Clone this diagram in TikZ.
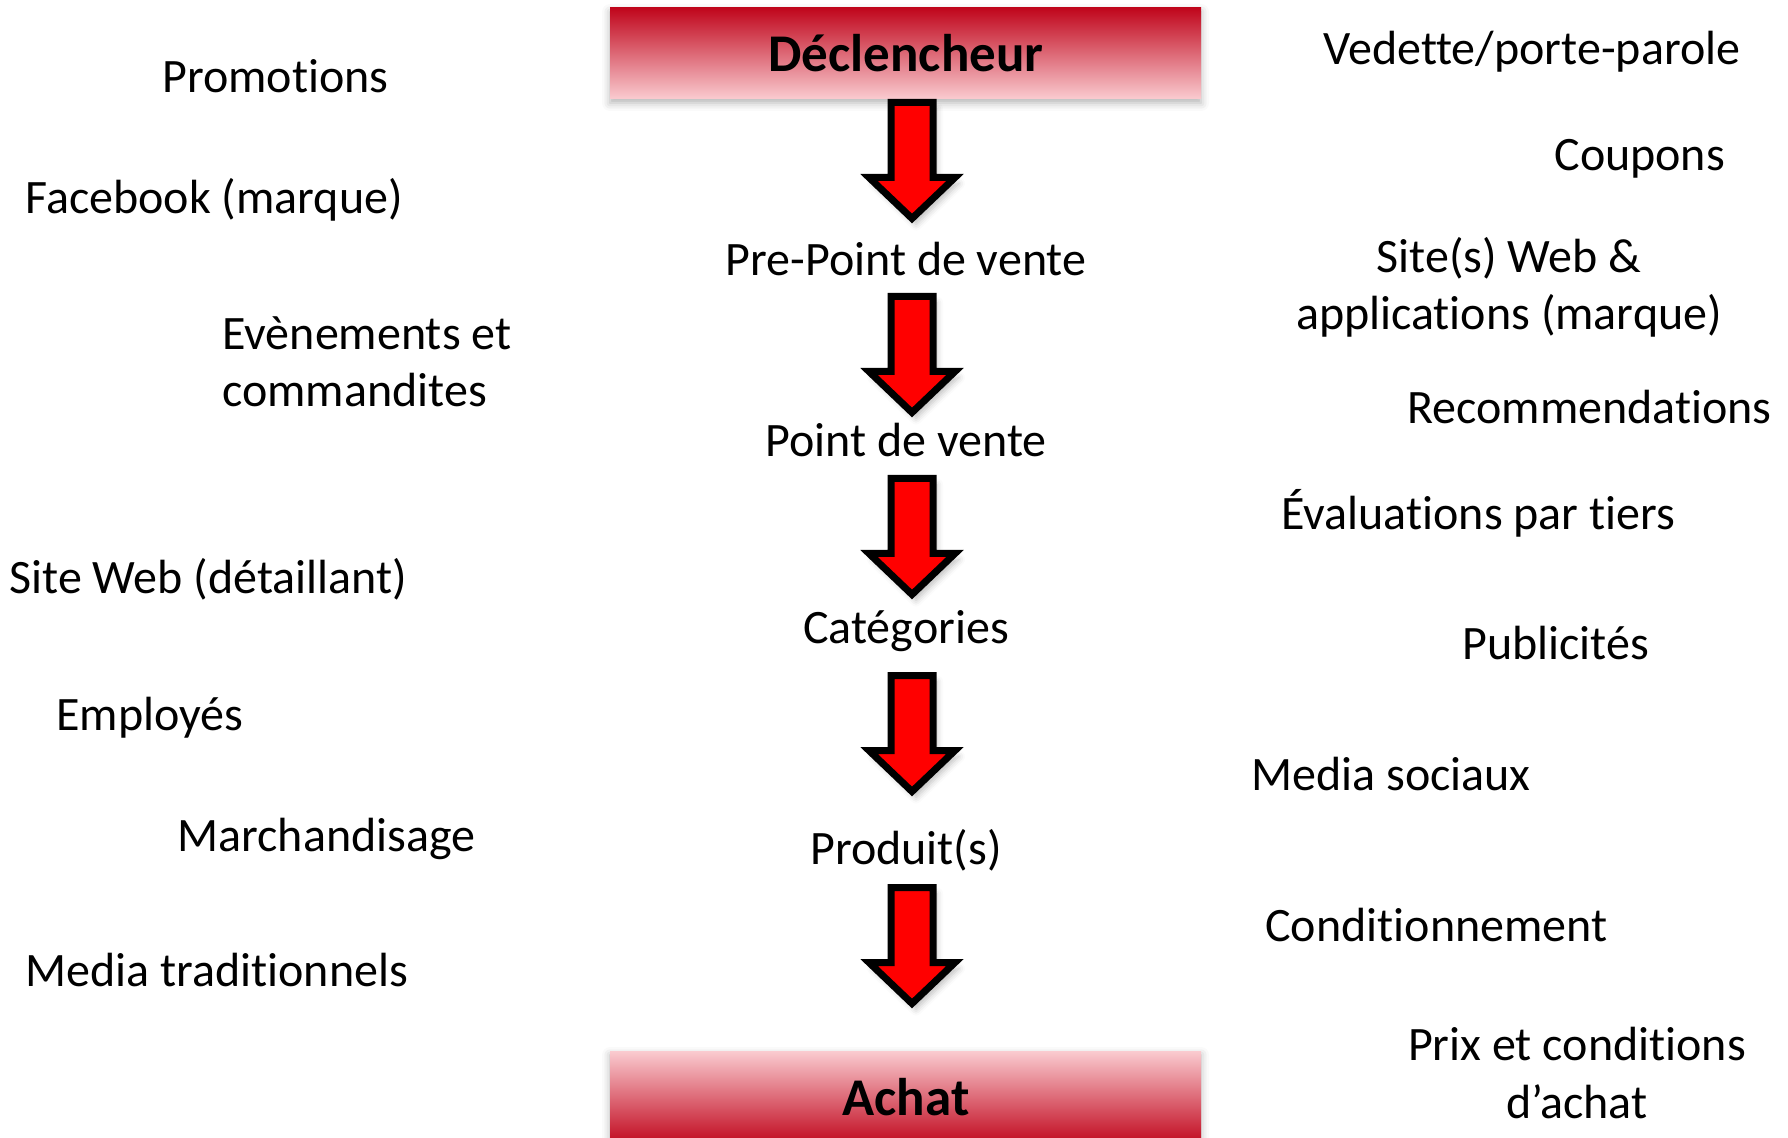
\documentclass[tikz,border=0pt]{standalone}
\usepackage{fontspec}
\setmainfont[RawFeature={-liga;-clig;-dlig}]{Carlito}
\usetikzlibrary{shadows.blur}
\definecolor{darkred}{HTML}{C0061C}
\definecolor{pinklight}{HTML}{FACBD0}
\definecolor{arrowred}{HTML}{FF0000}
\newcommand\tI{t\kern0pt i}
\begin{document}
\begin{tikzpicture}[x=0.5pt,y=-0.5pt,
  lbl/.style={inner sep=0pt,font=\fontsize{24}{28.6}\selectfont},
  ttl/.style={inner sep=0pt,font=\fontsize{26.5}{30}\selectfont\bfseries},
  boxshadow/.style={blur shadow={shadow xshift=0pt,shadow yshift=-2pt,shadow blur radius=4pt,shadow opacity=30}},
  arrowline/.style={draw=black,fill=arrowred,line width=3.5pt,line join=miter,
    blur shadow={shadow xshift=2pt,shadow yshift=-3pt,shadow blur radius=3pt,shadow opacity=25}},
  downarrow/.pic={\path[arrowline] (-21,3.5) -- (21,3.5) -- (21,78.5) -- (43,78.5) -- (0,119.5) -- (-43,78.5) -- (-21,78.5) -- cycle;}
]
\useasboundingbox (0,0) rectangle (1788,1138);
% title boxes
\path[boxshadow,top color=darkred,bottom color=pinklight] (610,8) rectangle (1201,99);
\path[boxshadow,top color=pinklight,bottom color=darkred] (610,1051) rectangle (1201,1145);
\node[ttl,anchor=base] (decl) at (906,72) {Déclencheur};
\node[ttl,anchor=base] (achat) at (906,1115) {Achat};
% arrows
\pic at (912,99) {downarrow};
\pic at (912,293) {downarrow};
\pic at (912,475) {downarrow};
\pic at (912,672) {downarrow};
\pic at (912,884) {downarrow};
% centre steps
\node[lbl,anchor=base] (prepdv) at (906,276) {Pre-Point de vente};
\node[lbl,anchor=base] (pdv) at (906,457) {Point de vente};
\node[lbl,anchor=base] (cat) at (906,643) {Catégories};
\node[lbl,anchor=base] (prod) at (906,864) {Produit(s)};
% left column
\node[lbl,anchor=base west] (promo) at (162,93) {Promo\tI ons};
\node[lbl,anchor=base west] (fb) at (25,214) {Facebook (marque)};
\node[lbl,anchor=west,align=left] (evt) at (222,362) {Evènements et\\commandites};
\node[lbl,anchor=base west] (siteweb) at (9,594) {Site Web (détaillant)};
\node[lbl,anchor=base west] (empl) at (56,730) {Employés};
\node[lbl,anchor=base west] (march) at (177,851) {Marchandisage};
\node[lbl,anchor=base west] (mediatrad) at (25,986) {Media tradi\tI onnels};
% right column
\node[lbl,anchor=base west] (vedette) at (1323,65) {Vedette/porte-parole};
\node[lbl,anchor=base west] (coupons) at (1554,171) {Coupons};
\node[lbl,align=center] (sites) at (1509,287) {Site(s) Web \&\\applica\tI ons (marque)};
\node[lbl,anchor=base west] (recom) at (1407,424) {Recommenda\tI ons};
\node[lbl,anchor=base west] (eval) at (1281,530) {Évalua\tI ons par \tI ers};
\node[lbl,anchor=base west] (pub) at (1462,660) {Publicités};
\node[lbl,anchor=base west] (medsoc) at (1251,790) {Media sociaux};
\node[lbl,anchor=base west] (cond) at (1265,941) {Condi\tI onnement};
\node[lbl,align=center] (prix) at (1577,1073) {Prix et condi\tI ons\\d’achat};
\end{tikzpicture}
\end{document}
